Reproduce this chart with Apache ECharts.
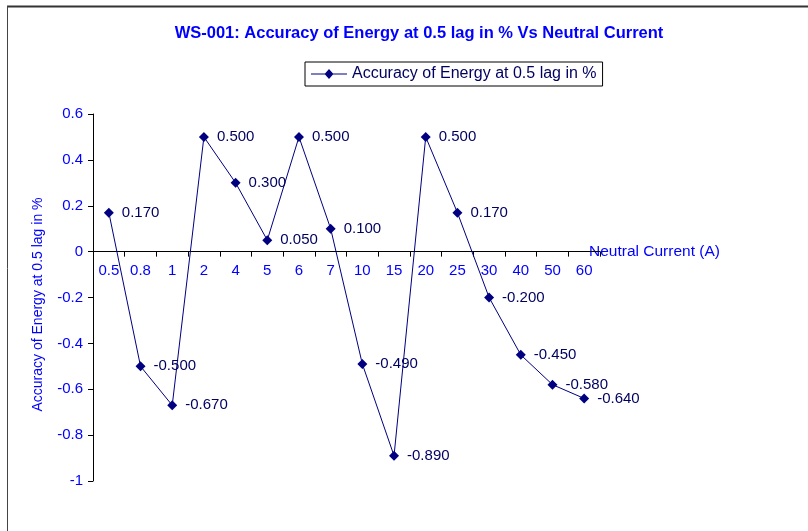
<!DOCTYPE html>
<html>
<head>
<meta charset="utf-8">
<script src="https://cdn.jsdelivr.net/npm/echarts@6/dist/echarts.min.js"></script>
<style>html,body{margin:0;padding:0;background:#fff}#c{width:808px;height:531px}</style>
</head>
<body>
<div id="c"></div>
<script>
const categories = ['0.5','0.8','1','2','4','5','6','7','10','15','20','25','30','40','50','60'];
const accuracy = [0.17, -0.5, -0.67, 0.5, 0.3, 0.05, 0.5, 0.1, -0.49, -0.89, 0.5, 0.17, -0.2, -0.45, -0.58, -0.64];
const seriesName = 'Accuracy of Energy at 0.5 lag in %';
const yMin = -1, yMax = 0.6;

const gridTop = 114, gridBottom = 50, H = 531;
const plotH = H - gridTop - gridBottom;
const zeroOffset = -plotH * (0 - yMin) / (yMax - yMin);

const chart = echarts.init(document.getElementById('c'), null, {renderer: 'canvas'});
const font = 'Liberation Sans, Arial, sans-serif';
chart.setOption({
  backgroundColor: '#fff',
  animation: false,
  graphic: [
    {type: 'line', shape: {x1: 7, y1: 6.5, x2: 808, y2: 6.5}, style: {stroke: '#333', lineWidth: 2}},
    {type: 'line', shape: {x1: 7.5, y1: 6, x2: 7.5, y2: 531}, style: {stroke: '#444', lineWidth: 1}}
  ],
  title: {
    text: 'WS-001: Accuracy of Energy at 0.5 lag in % Vs Neutral Current',
    left: 414, top: 20, textAlign: 'center',
    textStyle: {fontFamily: font, fontSize: 16.5, fontWeight: 'bold', color: '#0000ff'}
  },
  legend: {
    left: 305, top: 62,
    padding: [4, 6, 4, 6],
    borderColor: '#000', borderWidth: 1, borderRadius: 0,
    itemWidth: 36, itemHeight: 10,
    textStyle: {fontFamily: font, fontSize: 16, color: '#000060'},
    data: [{name: seriesName, icon: 'path://M0,4.6L14,4.6L18,0L22,4.6L36,4.6L36,5.4L22,5.4L18,10L14,5.4L0,5.4Z'}]
  },
  grid: {left: 93, top: gridTop, right: 208, bottom: gridBottom, containLabel: false},
  xAxis: {
    type: 'category',
    data: categories,
    boundaryGap: true,
    position: 'bottom',
    offset: zeroOffset,
    name: 'Neutral Current (A)',
    nameLocation: 'end',
    nameGap: -11,
    nameTextStyle: {fontFamily: font, fontSize: 15.5, color: '#0000ff', align: 'left', verticalAlign: 'middle'},
    axisLine: {onZero: false, lineStyle: {color: '#000', width: 1}},
    axisTick: {show: true, inside: false, length: 5, lineStyle: {color: '#000'}},
    axisLabel: {fontFamily: font, fontSize: 15, color: '#0000ff', margin: 12, interval: 0},
    splitLine: {show: false}
  },
  yAxis: {
    type: 'value',
    min: yMin, max: yMax, interval: 0.2,
    name: 'Accuracy of Energy at 0.5 lag in %',
    nameLocation: 'middle',
    nameGap: 48,
    nameRotate: 90,
    nameTextStyle: {fontFamily: font, fontSize: 14, color: '#0000ff', padding: [0, 14, 0, 0]},
    axisLine: {show: true, lineStyle: {color: '#000', width: 1}},
    axisTick: {show: true, inside: false, length: 5, lineStyle: {color: '#000'}},
    axisLabel: {fontFamily: font, fontSize: 15, color: '#0000ff', margin: 10,
      formatter: v => String(Math.round(v * 10) / 10)},
    splitLine: {show: false}
  },
  series: [{
    name: seriesName,
    type: 'line',
    data: accuracy,
    symbol: 'diamond',
    symbolSize: 10,
    lineStyle: {color: '#000080', width: 1},
    itemStyle: {color: '#000080'},
    label: {
      show: true, position: 'right', distance: 8,
      fontFamily: font, fontSize: 15, color: '#000060',
      formatter: p => p.value.toFixed(3)
    }
  }]
});
</script>
</body>
</html>
